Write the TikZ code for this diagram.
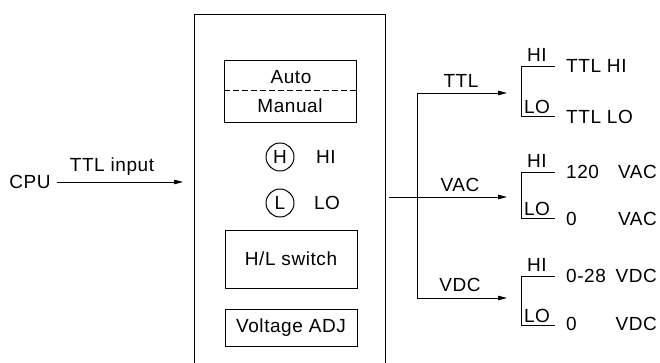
\documentclass[tikz,border=0pt]{standalone}
\usepackage{fontspec}
\setmainfont[LetterSpace=3]{Liberation Sans}
\usetikzlibrary{arrows.meta}
\begin{document}
\begin{tikzpicture}[x=1pt,y=-1pt,
  every node/.style={font=\fontsize{19}{22}\selectfont, inner sep=0pt},
  line/.style={line width=0.9pt},
  blk/.style={draw, line width=1pt, rectangle},
  ring/.style={draw, line width=1pt, circle, minimum size=28pt},
  arr/.style={line width=0.9pt, -{Triangle[length=9pt,width=4.5pt]}},
  brk/.style={line width=0.9pt}]
\useasboundingbox (0,0) rectangle (660,363);
% main unit (bottom edge runs off the picture)
\node[blk, minimum width=191pt, minimum height=380pt, anchor=north west] (main) at (194,14) {};
\node (cpu) at (30,182) {CPU};
\node (ttlin) at (112,167) {TTL input};
\coordinate (in) at (183,182);
\draw[arr] (cpu.east) ++(6pt,0) coordinate (cpuout) -- (in);
% inner boxes
\node[blk, minimum width=132pt, minimum height=62pt] (am) at (290,92) {};
\draw[line, dashed, dash pattern=on 6pt off 3pt] (am.west |- 0,90) -- (am.east |- 0,90);
\node (auto) at (291,77) {Auto};
\node (manual) at (290,106) {Manual};
\node[ring] (h) at (280,157) {H};
\node (hi) at (326,157) {HI};
\node[ring] (l) at (280,203) {L};
\node (lo) at (327,203) {LO};
\node[blk, minimum width=132pt, minimum height=58pt] (sw) at (291,259) {H/L switch};
\node[blk, minimum width=132pt, minimum height=37pt] (adj) at (291,327.5) {Voltage ADJ};
% outputs
\coordinate (o) at (389,197);
\coordinate (j) at (417,197);
\coordinate (jt) at (417,93);
\coordinate (jd) at (417,298);
\coordinate (tt) at (507,93);
\coordinate (ta) at (507,197);
\coordinate (td) at (507,298);
\draw[arr] (o) -- (ta);
\draw[line] (jt) -- (jd);
\draw[arr] (jt) -- (tt);
\draw[arr] (jd) -- (td);
\node (lttl) at (461,81) {TTL};
\node (lvac) at (460,185) {VAC};
\node (lvdc) at (460,285) {VDC};
% brackets
\foreach \n/\t/\b in {t/66/116, a/172/218, d/276/325}{
  \coordinate (\n hi) at (555,\t);
  \coordinate (\n lo) at (555,\b);
  \draw[brk] (\n hi) -- (521,\t) -- (521,\b) -- (\n lo);
  \node[anchor=south] (\n hil) at (537,\t-4) {HI};
  \node[anchor=south] (\n lol) at (537,\b-2) {LO};
}
\node[anchor=west] (ttlhi) at (566,66) {TTL HI};
\node[anchor=west] (ttllo) at (566,117) {TTL LO};
\node[anchor=west] (v120) at (566,172) {120};
\node[anchor=east] (vac1) at (657,172) {VAC};
\node[anchor=west] (v0a) at (566,219) {0};
\node[anchor=east] (vac2) at (657,219) {VAC};
\node[anchor=west] (v028) at (566,276) {0-28};
\node[anchor=east] (vdc1) at (657,276) {VDC};
\node[anchor=west] (v0d) at (566,324) {0};
\node[anchor=east] (vdc2) at (657,324) {VDC};
\end{tikzpicture}
\end{document}
